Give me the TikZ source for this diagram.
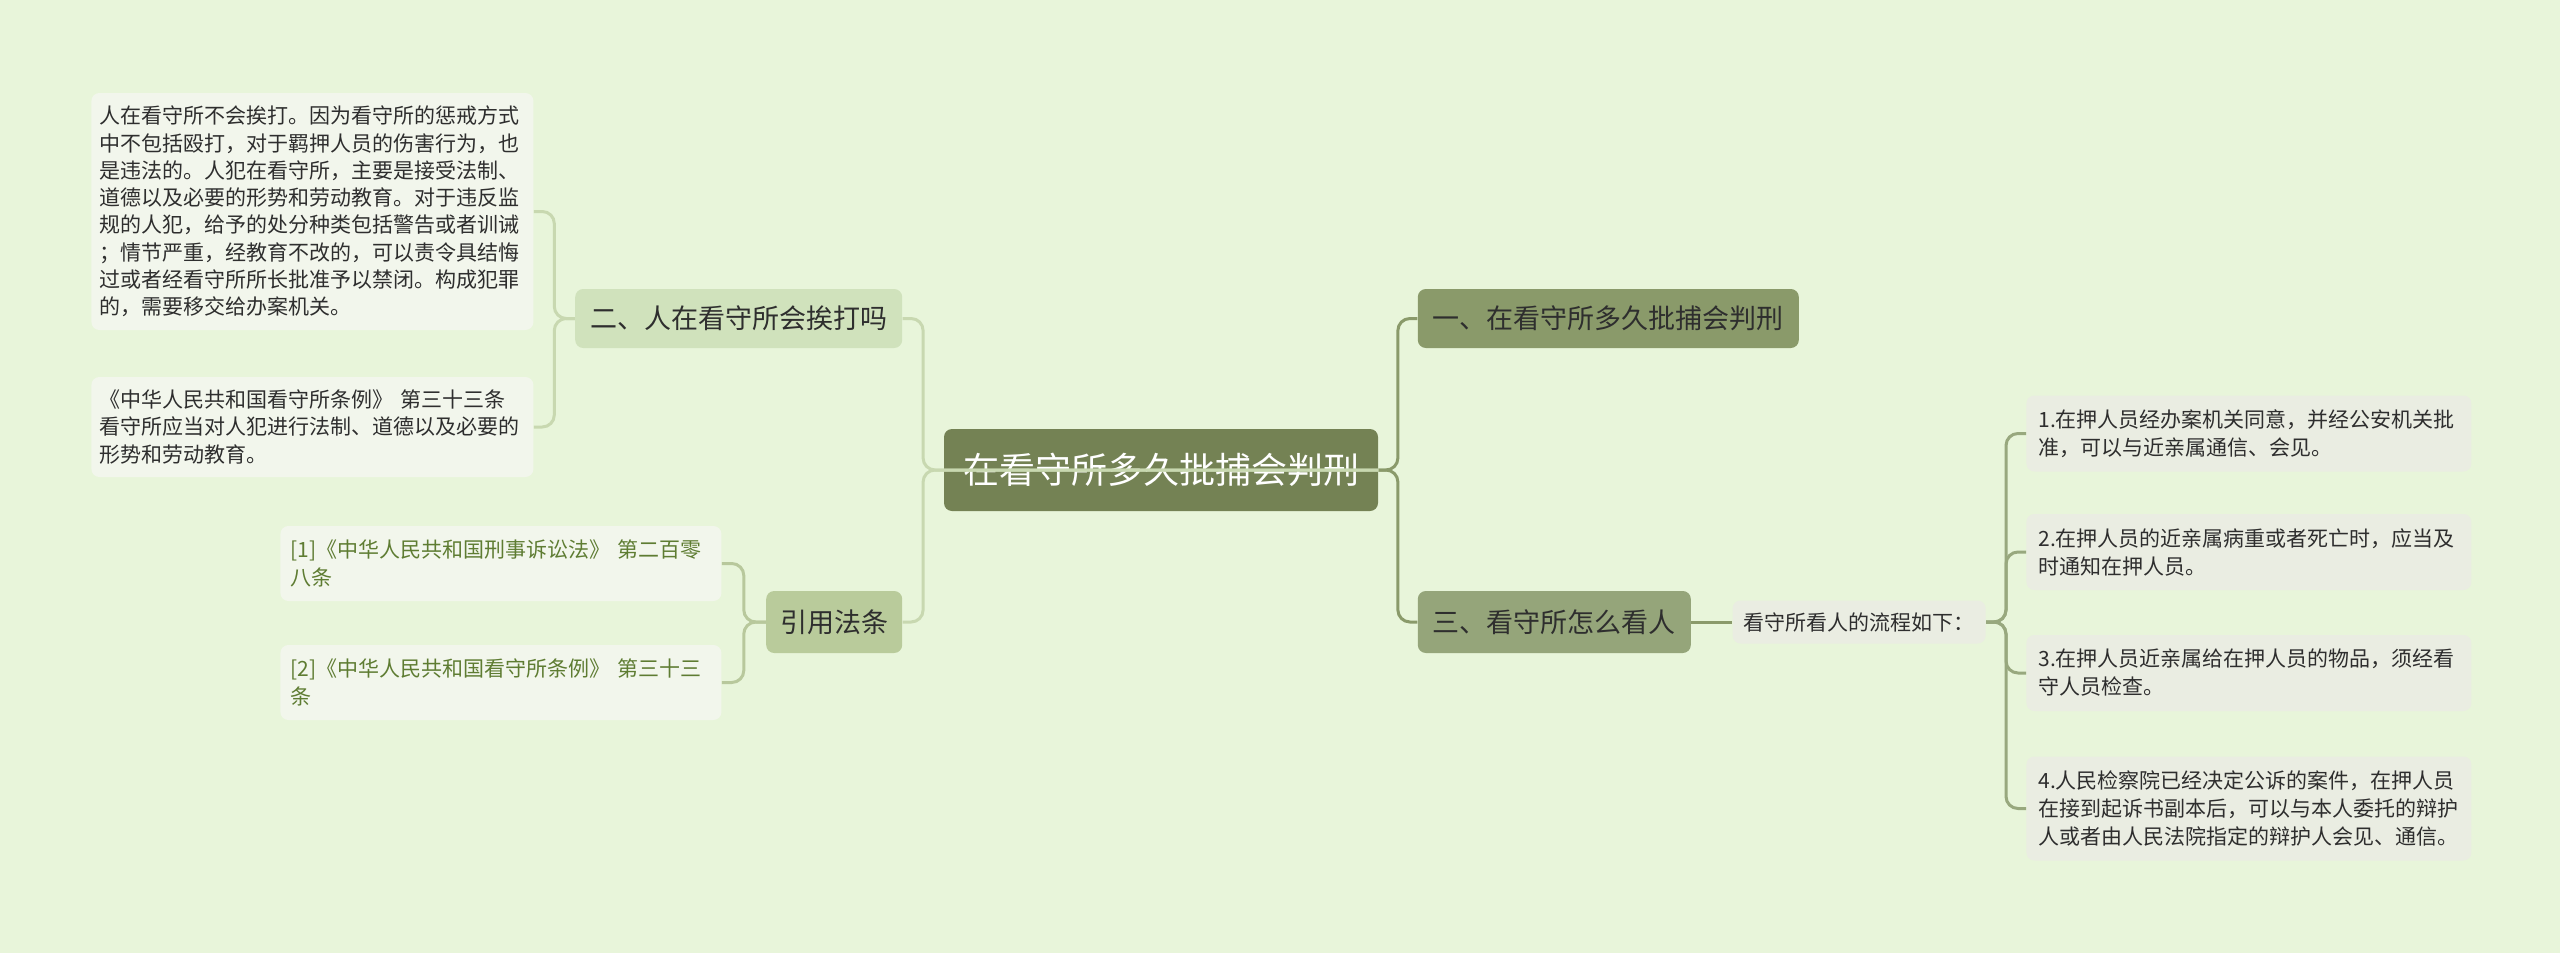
\documentclass[tikz,border=0pt]{standalone}
\usepackage{fontspec}
\setmainfont{Noto Sans CJK SC}
\usepackage{xcolor}
\usepackage{tikz}
\usetikzlibrary{positioning}
\definecolor{bgcol}{HTML}{E8F5DA}
\definecolor{rootcol}{HTML}{748254}
\definecolor{rightcol}{HTML}{8A9A6A}
\definecolor{threecol}{HTML}{95A57A}
\definecolor{twocol}{HTML}{D0E2BC}
\definecolor{citecol}{HTML}{B9CB9B}
\definecolor{leafcol}{HTML}{F2F6EC}
\definecolor{itemcol}{HTML}{EAEDE2}
\definecolor{textcol}{HTML}{2E2E2E}
\definecolor{refcol}{HTML}{5E7C32}
\definecolor{edgeleft}{HTML}{C8D8B0}
\definecolor{edgecite}{HTML}{B8C89C}
\definecolor{edgeitem}{HTML}{98A87E}
\tikzstyle{root} = [rectangle, fill=rootcol, text=white, rounded corners=4pt,
    minimum width=217pt, minimum height=41pt, inner sep=0pt, font=\fontsize{18}{22}\selectfont]
\tikzstyle{branch} = [rectangle, text=textcol, rounded corners=4pt, minimum height=29.5pt,
    inner sep=0pt, font=\fontsize{13.5}{16}\selectfont]
\tikzstyle{leaf} = [rectangle, fill=leafcol, text=textcol, rounded corners=4pt, align=left,
    inner xsep=4pt, inner ysep=0pt, text width=213pt, font=\fontsize{10.5}{13.65}\selectfont]
\tikzstyle{refleaf} = [rectangle, fill=leafcol, text=refcol, rounded corners=4pt, align=left,
    inner xsep=5pt, inner ysep=0pt, text width=210.5pt, minimum height=37.5pt, font=\fontsize{10.5}{14}\selectfont]
\tikzstyle{item} = [rectangle, fill=itemcol, text=textcol, rounded corners=4pt, align=left,
    inner xsep=6pt, inner ysep=0pt, text width=210.5pt, minimum height=38pt, font=\fontsize{10.5}{14}\selectfont]
\tikzstyle{line} = [draw, line width=1.5pt, rounded corners=6pt]
\begin{document}
\begin{tikzpicture}
      \useasboundingbox [fill=bgcol] (0,0) rectangle (1280pt,-476.5pt);
      % Main topic
      \node [root] (root) at (580.5pt,-235pt) {在看守所多久批捕会判刑};
      % Right side
      \node [branch, fill=rightcol, minimum width=190.5pt, right=19.5pt of root, yshift=75.75pt] (one) {一、在看守所多久批捕会判刑};
      \node [branch, fill=threecol, minimum width=136.5pt, minimum height=31pt, right=19.5pt of root, yshift=-76pt] (three) {三、看守所怎么看人};
      \node [rectangle, fill=itemcol, text=textcol, rounded corners=4pt, minimum width=126.5pt, minimum height=21.5pt,
          inner sep=0pt, font=\fontsize{10.5}{13}\selectfont, right=20.5pt of three] (flow) {看守所看人的流程如下：};
      \node [item, right=20pt of flow, yshift=94.25pt] (item1) {1.在押人员经办案机关同意，并经公安机关批\\准，可以与近亲属通信、会见。};
      \node [item, right=20pt of flow, yshift=35pt] (item2) {2.在押人员的近亲属病重或者死亡时，应当及\\时通知在押人员。};
      \node [item, right=20pt of flow, yshift=-25.5pt] (item3) {3.在押人员近亲属给在押人员的物品，须经看\\守人员检查。};
      \node [item, minimum height=52pt, right=20pt of flow, yshift=-93.25pt] (item4) {4.人民检察院已经决定公诉的案件，在押人员\\在接到起诉书副本后，可以与本人委托的辩护\\人或者由人民法院指定的辩护人会见、通信。};
      % Left side
      \node [branch, fill=twocol, minimum width=163.5pt, left=20.5pt of root, yshift=75.75pt] (two) {二、人在看守所会挨打吗};
      \node [branch, fill=citecol, minimum width=68pt, minimum height=31pt, left=20.5pt of root, yshift=-76pt] (cite) {引用法条};
      \node [leaf, minimum height=118.5pt, left=20.5pt of two, yshift=53.5pt] (beat) {人在看守所不会挨打。因为看守所的惩戒方式\\中不包括殴打，对于羁押人员的伤害行为，也\\是违法的。人犯在看守所，主要是接受法制、\\道德以及必要的形势和劳动教育。对于违反监\\规的人犯，给予的处分种类包括警告或者训诫\\；情节严重，经教育不改的，可以责令具结悔\\过或者经看守所所长批准予以禁闭。构成犯罪\\的，需要移交给办案机关。};
      \node [leaf, minimum height=50pt, left=20.5pt of two, yshift=-54.25pt] (rule) {《中华人民共和国看守所条例》 第三十三条\\看守所应当对人犯进行法制、道德以及必要的\\形势和劳动教育。};
      \node [refleaf, left=22pt of cite, yshift=29.25pt] (ref1) {[1]《中华人民共和国刑事诉讼法》 第二百零\\八条};
      \node [refleaf, left=22pt of cite, yshift=-30.25pt] (ref2) {[2]《中华人民共和国看守所条例》 第三十三\\条};
      % Draw edges
      \path [line, rightcol] (root.east) -- ([xshift=9.75pt]root.east) |- (one.west);
      \path [line, rightcol] (root.east) -- ([xshift=9.75pt]root.east) |- (three.west);
      \path [line, rightcol] (three.east) -- (flow.west);
      \path [line, edgeitem] (flow.east) -- ([xshift=10pt]flow.east) |- (item1.west);
      \path [line, edgeitem] (flow.east) -- ([xshift=10pt]flow.east) |- (item2.west);
      \path [line, edgeitem] (flow.east) -- ([xshift=10pt]flow.east) |- (item3.west);
      \path [line, edgeitem] (flow.east) -- ([xshift=10pt]flow.east) |- (item4.west);
      \path [line, edgeleft] (root.east) -- ([xshift=-10.25pt]root.west) |- (two.east);
      \path [line, edgeleft] (root.east) -- ([xshift=-10.25pt]root.west) |- (cite.east);
      \path [line, edgeleft] (two.west) -- ([xshift=-10.25pt]two.west) |- (beat.east);
      \path [line, edgeleft] (two.west) -- ([xshift=-10.25pt]two.west) |- (rule.east);
      \path [line, edgecite] (cite.west) -- ([xshift=-11pt]cite.west) |- (ref1.east);
      \path [line, edgecite] (cite.west) -- ([xshift=-11pt]cite.west) |- (ref2.east);
    \end{tikzpicture}
\end{document}
